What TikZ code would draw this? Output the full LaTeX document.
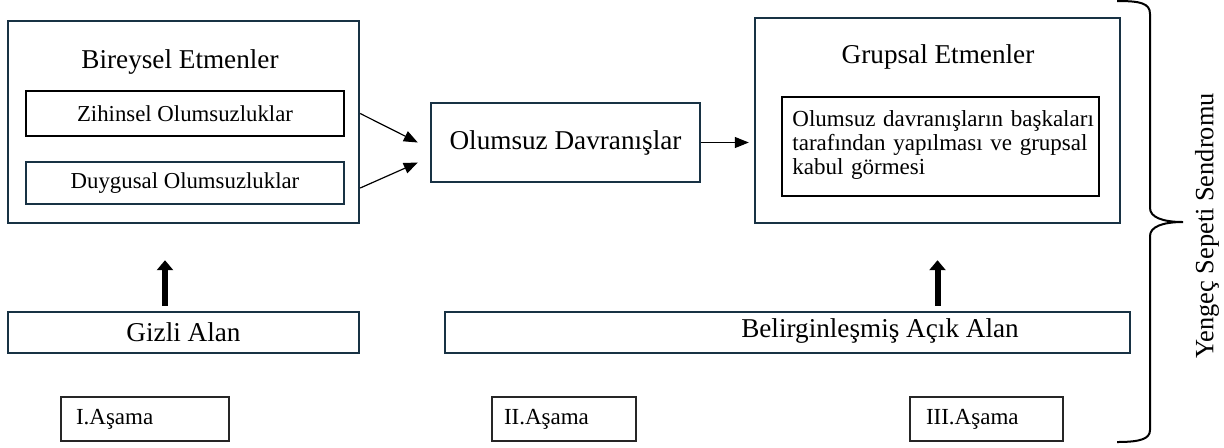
\documentclass[tikz,border=0pt]{standalone}
\usepackage{fontspec}
\setmainfont{Liberation Serif}
\usepackage{tikz}
\usetikzlibrary{arrows.meta}
\definecolor{BoxNavy}{RGB}{24, 50, 68}

\tikzset{
  outerbox/.style={draw=BoxNavy, line width=1.2pt, inner sep=0pt},
  innerbox/.style={draw=black, line width=1pt, inner sep=0pt},
  stagebox/.style={draw=black!85, line width=0.6pt, align=left, minimum height=22pt, font=\fontsize{11.5}{13}\selectfont},
  bigtext/.style={font=\fontsize{13.6}{16}\selectfont},
  smalltext/.style={font=\fontsize{11.4}{13}\selectfont},
  thinarrow/.style={-{Triangle[width=5.5pt,length=7pt]}, line width=0.6pt},
  bigarrow/.style={-{Triangle[width=8pt,length=5pt]}, line width=3pt},
}

\begin{document}
\begin{tikzpicture}[x=0.5pt, y=-0.5pt]
  \useasboundingbox (0,0) rectangle (1224,447);

  % Individual factors
  \node[outerbox, minimum width=175.5pt, minimum height=101pt] (bireysel) at (183.5,122) {};
  \node[bigtext] (bireyselbaslik) at (180,62) {Bireysel Etmenler};
  \node[innerbox, smalltext, minimum width=159pt, minimum height=22.5pt] (zihinsel) at (185,113.5) {Zihinsel Olumsuzluklar};
  \node[outerbox, line width=1pt, smalltext, minimum width=159pt, minimum height=21pt] (duygusal) at (185,183) {Duygusal Olumsuzluklar};

  % Negative behaviour
  \node[outerbox, bigtext, minimum width=134.5pt, minimum height=39.5pt] (davranis) at (565.5,142.5) {Olumsuz Davranışlar};

  % Group factors
  \node[outerbox, minimum width=182.5pt, minimum height=102.5pt] (grupsal) at (937.5,120.5) {};
  \node[bigtext] (grupsalbaslik) at (938,57) {Grupsal Etmenler};
  \node[innerbox, minimum width=158.5pt, minimum height=49.5pt] (grupsalic) at (940.5,146.5) {};
  \node[anchor=north west, inner sep=0pt, text width=152pt, align=left,
        font=\fontsize{11.5}{12}\selectfont] (grupsalmetin) at (792,110)
        {Olumsuz davranışların başkaları tarafından yapılması ve grupsal kabul görmesi};

  % Arrows
  \draw[thinarrow] (bireysel.east |- zihinsel) -- ([xshift=-6pt]davranis.west);
  \draw[thinarrow] ([yshift=-2.5pt]bireysel.east |- duygusal) -- ([xshift=-6pt, yshift=-10pt]davranis.west);
  \draw[thinarrow, shorten >=2.5pt] (davranis.east) -- (grupsal.west |- davranis.east);

  % Hidden / open areas
  \node[outerbox, bigtext, minimum width=175.5pt, minimum height=20.5pt] (gizli) at (183.5,332.5) {Gizli Alan};
  \node[outerbox, minimum width=342.5pt, minimum height=20.5pt] (acikalan) at (787.5,332.5) {};
  \node[bigtext] (acikalanmetin) at (880,331) {Belirginleşmiş Açık Alan};

  \draw[bigarrow] ([xshift=-9.25pt, yshift=2.5pt]gizli.north) -- ([xshift=-9.25pt, yshift=-18pt]gizli.north |- bireysel.south);
  \draw[bigarrow] ([yshift=2.5pt]grupsal.south |- acikalan.north) -- ([yshift=-18pt]grupsal.south);

  % Stages
  \node[stagebox, inner xsep=7.5pt, text width=69pt] (asama1) at (145,419) {I.Aşama};
  \node[stagebox, inner xsep=6pt, text width=60pt] (asama2) at (564,419) {II.Aşama};
  \node[stagebox, inner xsep=8pt, text width=60.5pt] (asama3) at (986.5,419) {III.Aşama};

  % Brace
  \draw[line width=1pt] (1117,1) .. controls (1140,1) and (1150,3) .. (1150,14) -- (1150,208)
    .. controls (1150,217) and (1162,222) .. (1183,222)
    .. controls (1162,222) and (1150,227) .. (1150,236) -- (1150,430)
    .. controls (1150,439) and (1140,442) .. (1117,442);
  \node[font=\fontsize{13.2}{15}\selectfont, rotate=90] (sendrom) at (1207,226) {Yengeç Sepeti Sendromu};
\end{tikzpicture}
\end{document}
